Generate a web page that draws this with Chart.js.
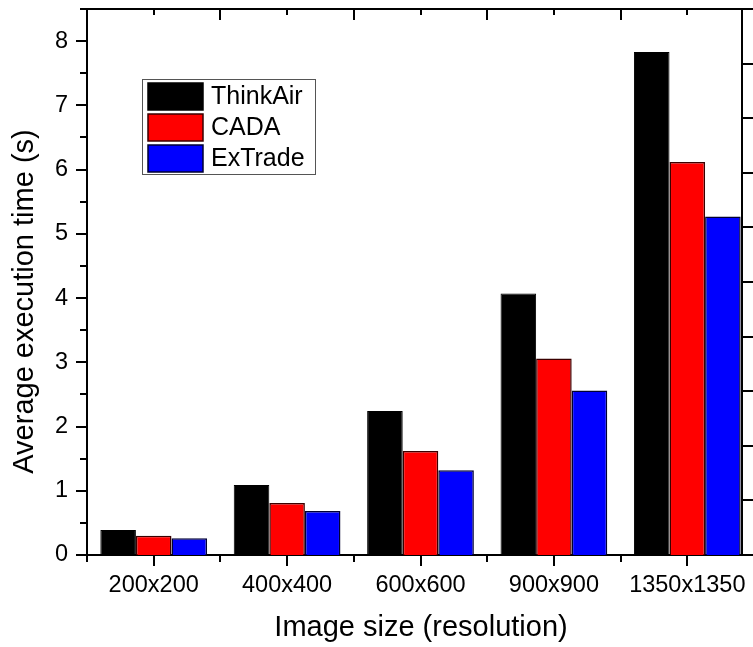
<!DOCTYPE html>
<html><head><meta charset="utf-8">
<script src="https://cdn.jsdelivr.net/npm/chart.js@4"></script>
<style>html,body{margin:0;padding:0;background:#fff}</style>
</head><body><canvas id="c" width="753" height="647"></canvas>
<script>
const categories = ['200x200', '400x400', '600x600', '900x900', '1350x1350'];
const thinkAir = [0.39, 1.09, 2.24, 4.07, 7.83];
const cada = [0.30, 0.81, 1.62, 3.06, 6.12];
const exTrade = [0.26, 0.685, 1.32, 2.56, 5.27];
const seriesNames = ['ThinkAir', 'CADA', 'ExTrade'];
const yTicks = [0, 1, 2, 3, 4, 5, 6, 7, 8];
const rightTicks = [0, 1, 2, 3, 4, 5, 6, 7, 8, 9, 10];
const xTitle = 'Image size (resolution)';
const yTitle = 'Average execution time (s)';

const FONT = 'Arial, "Liberation Sans", sans-serif';
const toPts = arr => arr.map((v, i) => ({ x: i + 1, y: v }));

const tickPlugin = {
  id: 'ticks',
  afterDraw(chart) {
    const ctx = chart.ctx;
    const { x, y, y2 } = chart.scales;
    const a = chart.chartArea;
    ctx.save();
    ctx.strokeStyle = '#000';
    ctx.lineWidth = 2;
    const line = (x1, y1, x2, y2_) => { ctx.beginPath(); ctx.moveTo(x1, y1); ctx.lineTo(x2, y2_); ctx.stroke(); };
    for (let v = 0.5; v <= categories.length + 0.5; v += 0.5) {
      const px = Math.round(x.getPixelForValue(v));
      if (px > a.right + 1) continue;
      const major = Number.isInteger(v);
      line(px, a.bottom, px, a.bottom + (major ? 11 : 7));
      line(px, a.top, px, a.top + (major ? 6 : 11));
    }
    for (let v = 0; v <= 8.5; v += 0.5) {
      const py = Math.round(y.getPixelForValue(v));
      const major = Number.isInteger(v);
      line(a.left, py, a.left - (major ? 11 : 7), py);
    }
    rightTicks.forEach(v => {
      const py = Math.round(y2.getPixelForValue(v));
      line(a.right, py, a.right + 11, py);
    });
    // axis titles
    ctx.fillStyle = '#000';
    ctx.font = '29px ' + FONT;
    ctx.textAlign = 'center';
    ctx.textBaseline = 'middle';
    ctx.fillText(xTitle, 421, 628);
    ctx.translate(24.5, 301.5);
    ctx.rotate(-Math.PI / 2);
    ctx.fillText(yTitle, 0, 0);
    ctx.restore();
  }
};

const legendPlugin = {
  id: 'boxLegend',
  afterDraw(chart) {
    const ctx = chart.ctx;
    ctx.save();
    const bx = 142.5, by = 79.5, bw = 173, bh = 95;
    ctx.strokeStyle = '#555';
    ctx.lineWidth = 1;
    ctx.strokeRect(bx, by, bw, bh);
    ctx.font = '25px ' + FONT;
    ctx.textBaseline = 'middle';
    ctx.textAlign = 'left';
    chart.data.datasets.forEach((ds, i) => {
      const top = 83 + i * 31;
      ctx.fillStyle = ds.backgroundColor;
      ctx.fillRect(148, top, 55, 27);
      ctx.strokeStyle = ds.borderColor;
      ctx.lineWidth = 1.5;
      ctx.strokeRect(148, top, 55, 27);
      ctx.fillStyle = '#000';
      ctx.fillText(ds.label, 211, top + 14.5);
    });
    ctx.restore();
  }
};

const noPadH = s => { s.paddingLeft = 0; s.paddingRight = 0; };
const noPadV = s => { s.paddingTop = 0; s.paddingBottom = 0; };

new Chart(document.getElementById('c'), {
  type: 'bar',
  data: {
    datasets: [
      { label: seriesNames[0], data: toPts(thinkAir), backgroundColor: '#000000', borderColor: '#000000', borderWidth: 1 },
      { label: seriesNames[1], data: toPts(cada), backgroundColor: '#ff0000', borderColor: '#3a0000', borderWidth: 1.5 },
      { label: seriesNames[2], data: toPts(exTrade), backgroundColor: '#0000ff', borderColor: '#000033', borderWidth: 1.5 }
    ]
  },
  options: {
    responsive: false,
    animation: false,
    devicePixelRatio: 1,
    layout: { padding: 0 },
    datasets: { bar: { categoryPercentage: 0.8, barPercentage: 1.0, borderSkipped: 'start' } },
    plugins: { legend: { display: false }, tooltip: { enabled: false } },
    scales: {
      x: {
        type: 'linear', position: 'bottom', min: 0.5, max: 5.41, offset: false,
        afterBuildTicks: s => { s.ticks = categories.map((c, i) => ({ value: i + 1 })); },
        afterFit: s => { s.height = 92; noPadH(s); },
        grid: { display: false, drawTicks: false, offset: false },
        border: { display: true, color: '#000', width: 2 },
        ticks: { padding: 16, color: '#000', font: { family: FONT, size: 23.5 }, maxRotation: 0, autoSkip: false,
          callback: v => categories[Math.round(v) - 1] },
        title: { display: false }
      },
      x2: {
        type: 'linear', position: 'top', min: 0.5, max: 5.41, offset: false,
        afterFit: s => { s.height = 9; noPadH(s); },
        grid: { display: false, drawTicks: false, offset: false },
        border: { display: true, color: '#000', width: 2 },
        ticks: { display: false }
      },
      y: {
        type: 'linear', position: 'left', min: 0, max: 8.5,
        afterBuildTicks: s => { s.ticks = yTicks.map(v => ({ value: v })); },
        afterFit: s => { s.width = 87; noPadV(s); },
        grid: { display: false, drawTicks: false },
        border: { display: true, color: '#000', width: 2 },
        ticks: { padding: 19, color: '#000', font: { family: FONT, size: 23.5 } },
        title: { display: false }
      },
      y2: {
        type: 'linear', position: 'right', min: 0, max: 10,
        afterFit: s => { s.width = 11; noPadV(s); },
        grid: { display: false, drawTicks: false },
        border: { display: true, color: '#000', width: 2 },
        ticks: { display: false }
      }
    }
  },
  plugins: [tickPlugin, legendPlugin]
});
</script>
</body></html>
